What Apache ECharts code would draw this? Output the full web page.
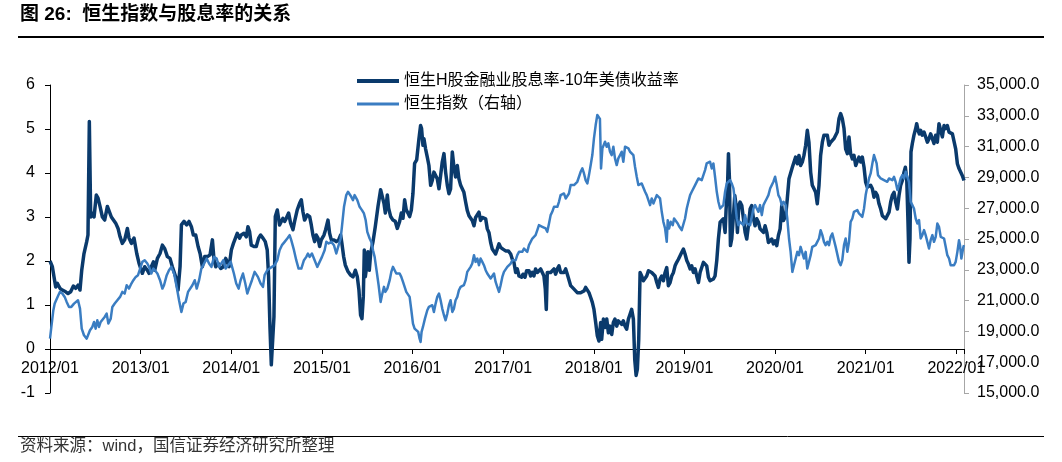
<!DOCTYPE html>
<html><head><meta charset="utf-8">
<script src="https://cdn.jsdelivr.net/npm/echarts@6/dist/echarts.min.js"></script>
<style>html,body{margin:0;padding:0;background:#fff}#c{width:1062px;height:462px}</style>
</head><body><div id="c"></div>
<script>
// ---- Data (time as decimal year) ----
const darkName = '恒生H股金融业股息率-10年美债收益率';
const hsiName = '恒生指数（右轴）';
const yearTicks = ['2012/01','2013/01','2014/01','2015/01','2016/01','2017/01','2018/01','2019/01','2020/01','2021/01','2022/01'];

const darkT = [
2012.000,2012.026,2012.044,2012.063,2012.081,2012.110,2012.136,2012.173,2012.199,2012.228,2012.258,2012.283,2012.309,2012.331,2012.350,2012.375,2012.405,2012.419,2012.434,2012.449,2012.467,2012.486,2012.511,2012.530,2012.552,2012.578,2012.603,2012.633,2012.651,2012.677,2012.699,2012.725,2012.751,2012.773,2012.798,2012.824,2012.854,2012.872,2012.898,2012.927,2012.957,2012.982,
2013.001,2013.019,2013.045,2013.074,2013.093,2013.118,2013.141,2013.155,2013.185,2013.214,2013.240,2013.266,2013.295,2013.324,2013.350,2013.387,2013.413,2013.435,2013.450,2013.479,2013.508,2013.534,2013.560,2013.582,2013.608,2013.634,2013.656,2013.681,2013.707,2013.737,2013.766,2013.792,2013.810,2013.829,2013.854,2013.884,2013.913,2013.939,2013.976,
2014.001,2014.024,2014.037,2014.066,2014.092,2014.110,2014.140,2014.166,2014.184,2014.202,2014.221,2014.250,2014.276,2014.302,2014.324,2014.350,2014.375,2014.397,2014.412,2014.427,2014.442,2014.456,2014.471,2014.486,2014.508,2014.533,2014.552,2014.570,2014.589,2014.607,2014.633,2014.655,2014.681,2014.699,2014.728,2014.754,2014.773,2014.791,2014.809,2014.839,2014.865,2014.883,2014.901,2014.920,2014.938,2014.957,2014.975,2014.993,
2015.023,2015.041,2015.067,2015.085,2015.104,2015.133,2015.159,2015.185,2015.207,2015.221,2015.240,2015.258,2015.288,2015.317,2015.343,2015.369,2015.391,2015.409,2015.427,2015.442,2015.457,2015.468,2015.479,2015.494,2015.508,2015.523,2015.538,2015.564,2015.589,2015.619,2015.648,2015.663,2015.685,2015.700,2015.722,2015.736,2015.759,2015.784,2015.810,2015.832,2015.858,2015.876,2015.895,2015.913,2015.931,2015.950,2015.968,2015.987,
2016.005,2016.023,2016.046,2016.071,2016.089,2016.100,2016.115,2016.126,2016.144,2016.163,2016.181,2016.200,2016.218,2016.236,2016.255,2016.273,2016.292,2016.310,2016.328,2016.347,2016.365,2016.384,2016.402,2016.420,2016.439,2016.457,2016.475,2016.494,2016.512,2016.531,2016.549,2016.567,2016.586,2016.604,2016.623,2016.641,2016.659,2016.678,2016.696,2016.715,2016.733,2016.751,2016.770,2016.788,2016.807,2016.825,2016.843,2016.862,2016.880,2016.899,2016.917,2016.935,2016.954,2016.972,2016.998,
2017.027,2017.057,2017.083,2017.101,2017.119,2017.138,2017.156,2017.175,2017.204,2017.219,2017.241,2017.259,2017.285,2017.303,2017.322,2017.340,2017.358,2017.377,2017.395,2017.414,2017.432,2017.450,2017.465,2017.476,2017.487,2017.506,2017.524,2017.542,2017.561,2017.579,2017.598,2017.616,2017.634,2017.653,2017.671,2017.690,2017.708,2017.726,2017.745,2017.763,2017.782,2017.800,2017.818,2017.837,2017.855,2017.874,2017.892,2017.910,2017.929,2017.947,2017.966,2017.984,
2018.002,2018.021,2018.039,2018.057,2018.076,2018.087,2018.106,2018.124,2018.143,2018.161,2018.179,2018.198,2018.216,2018.234,2018.253,2018.271,2018.290,2018.308,2018.326,2018.345,2018.363,2018.382,2018.400,2018.418,2018.437,2018.452,2018.467,2018.481,2018.496,2018.511,2018.529,2018.547,2018.566,2018.584,2018.603,2018.621,2018.639,2018.658,2018.676,2018.695,2018.713,2018.731,2018.750,2018.768,2018.787,2018.805,2018.823,2018.842,2018.860,2018.879,2018.897,2018.915,2018.934,2018.952,2018.971,2018.989,
2019.007,2019.026,2019.044,2019.063,2019.081,2019.099,2019.118,2019.136,2019.155,2019.173,2019.191,2019.210,2019.228,2019.246,2019.265,2019.283,2019.302,2019.320,2019.338,2019.357,2019.375,2019.394,2019.412,2019.430,2019.449,2019.460,2019.475,2019.486,2019.497,2019.508,2019.522,2019.541,2019.556,2019.570,2019.585,2019.600,2019.614,2019.633,2019.651,2019.670,2019.688,2019.706,2019.725,2019.743,2019.762,2019.780,2019.798,2019.817,2019.835,2019.854,2019.872,2019.890,2019.909,2019.927,2019.946,2019.964,2019.982,
2020.001,2020.019,2020.037,2020.056,2020.074,2020.093,2020.117,2020.135,2020.154,2020.172,2020.191,2020.209,2020.227,2020.246,2020.264,2020.282,2020.301,2020.319,2020.338,2020.356,2020.374,2020.393,2020.411,2020.430,2020.448,2020.466,2020.485,2020.503,2020.522,2020.540,2020.558,2020.577,2020.595,2020.614,2020.632,2020.650,2020.669,2020.687,2020.706,2020.724,2020.742,2020.761,2020.779,2020.798,2020.816,2020.834,2020.853,2020.871,2020.890,2020.908,2020.926,2020.945,2020.963,2020.982,
2021.000,2021.018,2021.037,2021.055,2021.074,2021.092,2021.110,2021.129,2021.147,2021.166,2021.184,2021.202,2021.221,2021.239,2021.258,2021.276,2021.294,2021.313,2021.331,2021.350,2021.368,2021.386,2021.405,2021.423,2021.438,2021.453,2021.467,2021.478,2021.489,2021.500,2021.515,2021.533,2021.552,2021.563,2021.578,2021.592,2021.607,2021.625,2021.644,2021.662,2021.681,2021.699,2021.717,2021.736,2021.754,2021.773,2021.791,2021.809,2021.828,2021.846,2021.865,2021.883,2021.901,2021.920,2021.938,2021.957,2021.975,2021.993,
2022.012,2022.030,2022.048,2022.067,2022.085];

const darkV = [
2.00,1.87,1.64,1.41,1.49,1.38,1.34,1.30,1.26,1.30,1.43,1.38,1.45,1.34,1.79,2.17,2.44,2.59,5.17,3.00,3.09,3.00,3.50,3.43,3.24,3.00,2.93,3.24,3.28,3.00,2.97,2.86,2.74,2.55,2.40,2.48,2.74,2.52,2.40,2.52,2.17,1.95,
1.83,1.72,1.87,1.79,1.72,1.87,1.98,1.79,2.06,2.17,2.36,2.28,2.10,2.06,1.87,1.64,1.34,1.87,2.82,2.90,2.82,2.90,2.78,2.59,2.59,2.33,2.17,1.87,2.10,2.10,2.14,2.48,2.02,1.87,1.95,1.83,1.87,2.06,1.87,
2.25,2.40,2.44,2.63,2.52,2.59,2.63,2.55,2.78,2.67,2.36,2.33,2.33,2.52,2.59,2.52,2.44,2.25,1.64,0.50,-0.36,-0.40,0.73,3.01,3.16,2.82,2.78,2.97,2.90,2.97,3.09,2.86,2.71,2.90,3.16,3.31,3.39,3.12,2.93,3.05,3.01,2.82,2.59,2.44,2.59,2.52,2.33,2.48,
2.59,2.71,2.93,2.63,2.48,2.48,2.44,2.48,2.59,2.40,2.10,1.91,1.76,1.68,1.64,1.79,1.64,1.34,0.77,0.69,1.19,2.25,1.64,1.87,2.21,1.79,2.17,2.44,2.78,3.24,3.62,3.66,3.31,3.09,3.50,3.20,3.01,2.93,2.90,2.74,2.90,3.09,2.97,3.39,3.16,3.09,3.01,3.16,
3.54,4.22,4.30,4.78,5.08,5.01,4.63,4.78,4.55,4.36,4.17,3.72,3.83,4.02,4.06,3.87,3.64,3.94,4.25,4.44,4.02,3.72,3.53,3.64,4.48,4.13,3.91,4.17,3.87,3.72,3.68,3.56,3.34,3.15,3.03,2.99,2.92,2.80,2.99,2.96,3.11,2.92,2.99,3.03,2.96,2.73,2.65,2.42,2.27,2.23,2.16,2.27,2.39,2.31,2.27,
2.23,2.23,2.16,2.04,1.97,1.74,1.82,1.66,1.63,1.70,1.63,1.78,1.78,1.66,1.74,1.66,1.82,1.74,1.78,1.82,1.74,1.66,1.36,0.90,1.74,1.78,1.74,1.78,1.82,1.70,1.82,1.89,1.74,1.78,1.74,1.82,1.70,1.66,1.44,1.40,1.36,1.32,1.28,1.32,1.28,1.28,1.32,1.40,1.44,1.28,1.17,1.06,
0.90,0.60,0.30,0.18,0.60,0.22,0.68,0.49,0.68,0.37,0.52,0.33,0.60,0.68,0.52,0.64,0.68,0.56,0.64,0.52,0.45,0.68,0.79,0.90,0.68,-0.24,-0.60,-0.46,0.22,1.74,1.66,1.55,1.59,1.66,1.78,1.82,1.74,1.78,1.66,1.51,1.40,1.59,1.66,1.55,1.74,1.85,1.44,1.51,1.66,1.74,1.89,1.97,2.04,2.08,2.20,2.27,
2.16,2.01,1.93,1.82,1.89,1.74,1.82,1.66,1.51,1.74,1.78,1.97,2.01,1.89,1.63,1.55,1.59,1.59,1.66,2.01,2.50,2.88,2.92,2.96,2.65,3.18,3.64,4.44,3.87,2.35,2.50,3.03,3.49,3.26,2.65,3.26,3.34,3.26,3.30,2.65,2.50,2.80,3.18,3.26,2.96,2.80,2.96,2.88,2.73,2.77,2.65,2.80,2.65,2.42,2.42,2.50,2.39,
2.46,2.35,2.58,2.73,3.26,2.92,3.03,3.41,3.87,3.91,4.13,4.17,4.36,4.21,4.40,4.17,4.25,4.40,4.63,4.97,4.70,4.02,3.72,3.64,3.56,3.30,3.72,4.40,4.70,4.86,4.89,4.86,4.63,4.70,4.70,4.78,4.82,4.93,5.24,5.35,5.24,5.01,4.55,4.44,4.82,4.44,4.32,4.40,4.17,4.13,4.36,4.25,4.36,4.13,
3.79,3.68,3.64,3.72,3.64,3.45,3.56,3.49,3.30,3.18,3.03,2.99,2.96,2.99,3.11,3.34,3.49,3.56,3.34,3.18,3.49,3.72,3.83,4.02,4.13,3.87,2.88,1.97,2.50,4.48,4.67,4.86,5.01,5.12,4.97,4.89,4.97,4.86,4.93,4.82,4.70,4.78,4.89,4.78,4.67,4.86,4.70,5.12,4.97,4.82,5.08,5.01,5.08,4.93,4.97,4.89,4.86,4.55,
4.21,4.10,4.06,3.94,3.83];

const hsiT = [
2012.000,2012.015,2012.037,2012.052,2012.074,2012.092,2012.110,2012.136,2012.162,2012.184,2012.210,2012.235,2012.265,2012.283,2012.309,2012.331,2012.350,2012.375,2012.405,2012.419,2012.441,2012.467,2012.486,2012.504,2012.522,2012.541,2012.559,2012.581,2012.603,2012.625,2012.644,2012.670,2012.688,2012.714,2012.743,2012.773,2012.798,2012.824,2012.846,2012.872,2012.898,2012.920,2012.946,2012.971,
2013.001,2013.019,2013.045,2013.074,2013.093,2013.118,2013.141,2013.155,2013.185,2013.214,2013.240,2013.258,2013.288,2013.313,2013.339,2013.369,2013.398,2013.424,2013.450,2013.472,2013.497,2013.523,2013.545,2013.571,2013.597,2013.619,2013.645,2013.670,2013.700,2013.729,2013.755,2013.781,2013.810,2013.839,2013.865,2013.884,2013.913,2013.939,2013.965,2013.994,
2014.029,2014.055,2014.081,2014.103,2014.129,2014.155,2014.177,2014.202,2014.228,2014.258,2014.276,2014.294,2014.324,2014.350,2014.368,2014.397,2014.423,2014.449,2014.478,2014.508,2014.533,2014.559,2014.589,2014.618,2014.644,2014.662,2014.692,2014.717,2014.743,2014.773,2014.802,2014.828,2014.846,2014.865,2014.890,2014.920,2014.949,2014.975,
2015.001,2015.030,2015.049,2015.074,2015.104,2015.133,2015.159,2015.185,2015.207,2015.221,2015.244,2015.269,2015.288,2015.306,2015.324,2015.343,2015.361,2015.391,2015.416,2015.442,2015.464,2015.483,2015.501,2015.527,2015.545,2015.564,2015.582,2015.608,2015.626,2015.648,2015.663,2015.685,2015.700,2015.722,2015.748,2015.766,2015.784,2015.803,2015.821,2015.840,2015.858,2015.876,2015.895,2015.913,2015.931,2015.950,2015.968,2015.987,
2016.005,2016.023,2016.042,2016.063,2016.078,2016.089,2016.100,2016.115,2016.137,2016.163,2016.181,2016.200,2016.218,2016.236,2016.255,2016.273,2016.292,2016.310,2016.328,2016.347,2016.365,2016.384,2016.402,2016.420,2016.439,2016.457,2016.475,2016.494,2016.512,2016.531,2016.549,2016.567,2016.586,2016.604,2016.623,2016.641,2016.659,2016.678,2016.696,2016.715,2016.733,2016.751,2016.770,2016.788,2016.807,2016.825,2016.843,2016.862,2016.880,2016.899,2016.917,2016.935,2016.954,2016.972,2016.991,
2017.009,2017.027,2017.046,2017.064,2017.083,2017.101,2017.119,2017.138,2017.156,2017.175,2017.193,2017.211,2017.230,2017.248,2017.266,2017.285,2017.303,2017.322,2017.340,2017.358,2017.377,2017.395,2017.414,2017.432,2017.450,2017.469,2017.487,2017.506,2017.524,2017.542,2017.561,2017.579,2017.598,2017.616,2017.634,2017.653,2017.671,2017.690,2017.708,2017.726,2017.745,2017.763,2017.782,2017.800,2017.818,2017.837,2017.855,2017.874,2017.892,2017.910,2017.929,2017.947,2017.966,2017.984,
2018.002,2018.021,2018.039,2018.055,2018.068,2018.080,2018.095,2018.124,2018.143,2018.161,2018.179,2018.198,2018.216,2018.234,2018.253,2018.271,2018.290,2018.308,2018.326,2018.345,2018.363,2018.382,2018.400,2018.418,2018.437,2018.455,2018.474,2018.492,2018.511,2018.529,2018.547,2018.566,2018.584,2018.603,2018.621,2018.639,2018.658,2018.676,2018.695,2018.713,2018.731,2018.750,2018.768,2018.787,2018.805,2018.816,2018.831,2018.849,2018.871,2018.886,2018.908,2018.926,2018.945,2018.970,2018.989,
2019.007,2019.026,2019.044,2019.063,2019.081,2019.099,2019.118,2019.136,2019.155,2019.173,2019.191,2019.210,2019.228,2019.246,2019.265,2019.283,2019.302,2019.320,2019.338,2019.357,2019.375,2019.394,2019.412,2019.430,2019.449,2019.467,2019.486,2019.504,2019.522,2019.541,2019.559,2019.578,2019.596,2019.614,2019.633,2019.651,2019.670,2019.688,2019.706,2019.725,2019.743,2019.762,2019.780,2019.798,2019.817,2019.835,2019.854,2019.872,2019.890,2019.909,2019.927,2019.946,2019.964,2019.982,
2020.001,2020.019,2020.037,2020.056,2020.074,2020.093,2020.117,2020.135,2020.154,2020.172,2020.191,2020.209,2020.227,2020.246,2020.264,2020.282,2020.301,2020.319,2020.338,2020.356,2020.374,2020.393,2020.411,2020.430,2020.448,2020.466,2020.485,2020.503,2020.522,2020.540,2020.558,2020.577,2020.595,2020.614,2020.632,2020.650,2020.669,2020.687,2020.706,2020.724,2020.742,2020.761,2020.779,2020.798,2020.816,2020.834,2020.853,2020.871,2020.890,2020.908,2020.926,2020.945,2020.963,2020.982,
2021.000,2021.018,2021.037,2021.055,2021.074,2021.092,2021.110,2021.121,2021.136,2021.151,2021.166,2021.184,2021.202,2021.221,2021.239,2021.258,2021.276,2021.294,2021.313,2021.331,2021.350,2021.368,2021.386,2021.405,2021.423,2021.442,2021.460,2021.478,2021.497,2021.515,2021.533,2021.552,2021.570,2021.589,2021.607,2021.625,2021.644,2021.662,2021.681,2021.699,2021.717,2021.736,2021.754,2021.773,2021.791,2021.809,2021.828,2021.846,2021.865,2021.883,2021.901,2021.920,2021.938,2021.957,2021.975,2021.993,
2022.012,2022.030,2022.041,2022.056,2022.067,2022.078,2022.085];

const hsiV = [
18530,19290,20375,20806,20915,21350,21564,21456,21240,20915,20590,20590,20806,20915,21023,20480,19180,18750,18530,18530,19070,19290,19615,19180,19722,19290,19615,19510,19940,20155,19510,19830,20590,20806,21023,21240,21564,21456,21998,21780,22106,22324,22540,22650,
23190,23515,23624,23407,23190,22757,23082,23190,22757,22324,21780,21998,22650,22973,23190,22757,21890,21023,20265,20806,20915,21564,21673,21998,22324,21780,22324,23082,23407,23732,23407,23190,23840,23732,23190,23082,23624,23082,23300,23515,
22757,22106,21780,22324,22757,22106,21456,21890,22324,22865,22973,22540,22106,21890,22650,22973,23082,23190,23300,23624,24273,24600,24815,25032,25250,24924,24273,23624,23082,23082,23624,23840,24057,23840,24057,23624,23190,23515,
23840,24273,24815,24708,24815,24600,24057,24600,25032,25790,27090,27850,28066,28175,27740,27524,27850,27524,27090,26874,26657,26224,25466,25032,24815,24273,23840,22757,21998,20915,21350,21890,21564,21780,22324,22865,23190,22973,22757,22650,22757,22540,22215,22106,21564,21673,21240,20375,
19510,19180,19200,18965,18530,18314,18965,19290,19830,20373,20590,20480,20700,20265,20806,21240,21457,21023,20480,20048,19722,20155,20700,21023,20265,20480,21023,21240,21673,21890,22000,22000,22324,22865,22973,23190,23407,23950,23515,23732,23300,23732,23515,23300,22973,22757,22650,22432,22540,22757,22215,21890,21565,22000,22540,
22865,22973,23190,23082,23407,23624,23732,23624,23950,24165,24274,24165,24382,24382,24165,24600,24600,25032,24924,25250,25575,25900,26008,25791,25900,25683,25466,26008,26550,26766,27090,27200,27090,27416,27850,27850,27958,27633,27741,27958,28500,28500,28500,28608,28716,29041,29366,29583,29258,28824,28608,29150,29800,30450,
31533,32400,33050,33158,32800,29583,30883,31316,30991,31208,30666,30450,30991,30233,29800,30233,30450,30666,30017,30991,31100,30883,30666,30775,30450,29691,29041,28500,28500,28608,28716,28066,27850,27850,27200,27633,27308,27200,27850,27850,27633,26766,26116,25683,24815,26224,25683,26116,25900,26332,26224,26008,25791,25575,25683,
26332,26983,27416,27850,28066,27958,28500,28392,28933,29041,28824,28933,29475,29908,29908,30017,29583,29908,29041,28066,27416,26983,26875,27200,28066,28608,28716,28824,28608,28283,27416,26332,25900,26116,26008,25900,26550,26008,26116,25900,26008,26983,27200,26983,26766,27200,26550,27200,27416,27633,27850,28283,28500,28716,
29041,28500,27850,27633,27200,27416,27200,26332,25032,24165,22865,23300,23190,24165,23950,24490,24382,23732,24165,23082,22973,23950,24490,24382,24600,24815,25032,25575,25250,24815,24600,24815,24600,25141,25358,25250,24490,24382,23515,23300,23624,24600,25032,24165,24815,26116,26332,26766,26658,26875,26658,26550,26441,26983,
27850,28392,28933,29258,29908,30450,30558,29908,29150,29041,28933,29041,28824,28933,28716,28933,29041,28824,29041,28716,28175,28500,28933,29150,28933,29366,29258,28716,27416,27200,26983,26332,26008,26224,25032,25250,25575,25250,25358,24382,24924,25250,24815,25141,26008,25791,25141,25250,25032,24490,23950,23732,23300,23190,23300,23515,
24165,24924,24600,23732,23624,24490,24600];

const DARK = '#0a3a6c';
const LIGHT = '#3a7dc2';
const FONT = '"Liberation Sans", Arial, "Noto Sans CJK SC", sans-serif';

const darkData = darkT.map((t, i) => [t, darkV[i]]);
const hsiData = hsiT.map((t, i) => [t, hsiV[i]]);
const firstYear = parseInt(yearTicks[0], 10);
const X_MIN = 2012, X_MAX = 2022.085;

const chart = echarts.init(document.getElementById('c'), null, {renderer: 'canvas'});
chart.setOption({
  animation: false,
  backgroundColor: '#ffffff',
  textStyle: {fontFamily: FONT},
  grid: [
    {left: 50, right: 98, top: 85, bottom: 69, containLabel: false},
    // axis strip: bottom edge sits on value 0 of the left axis
    {left: 50, right: 98, top: 85, height: 264, containLabel: false}
  ],
  legend: {
    orient: 'vertical', left: 352, top: 68,
    itemWidth: 42, itemHeight: 14, itemGap: 7,
    itemStyle: {borderWidth: 0},
    textStyle: {fontSize: 16, color: '#000', fontFamily: FONT, lineHeight: 16},
    data: [
      {name: darkName, icon: 'path://M0,0H42V4H0Z'},
      {name: hsiName, icon: 'path://M0,0H42V3H0Z'}
    ]
  },
  xAxis: [
    {type: 'value', gridIndex: 0, min: X_MIN, max: X_MAX, show: false},
    {
      type: 'value', gridIndex: 1, min: X_MIN, max: X_MAX, interval: 1, position: 'bottom',
      axisLine: {show: true, onZero: false, lineStyle: {color: '#000', width: 1}},
      axisTick: {show: true, length: 5, lineStyle: {color: '#000'}},
      axisLabel: {
        fontSize: 16, color: '#000', margin: 12, fontFamily: FONT,
        formatter: v => {
          const r = Math.round(v);
          if (Math.abs(v - r) > 1e-6) return '';
          return yearTicks[r - firstYear] || '';
        }
      },
      splitLine: {show: false}
    }
  ],
  yAxis: [
    {
      type: 'value', gridIndex: 0, min: -1, max: 6, interval: 1,
      axisLine: {show: true, onZero: false, lineStyle: {color: '#000', width: 1}},
      axisTick: {show: true, length: 5, lineStyle: {color: '#000'}},
      axisLabel: {fontSize: 16, color: '#000', margin: 15, fontFamily: FONT},
      splitLine: {show: false}
    },
    {
      type: 'value', gridIndex: 0, position: 'right', min: 15000, max: 35000, interval: 2000,
      axisLine: {show: true, onZero: false, lineStyle: {color: '#a6a6a6', width: 1}},
      axisTick: {show: true, length: 5, lineStyle: {color: '#a6a6a6'}},
      axisLabel: {fontSize: 16, color: '#000', margin: 13, fontFamily: FONT,
        formatter: v => v.toLocaleString('en-US', {minimumFractionDigits: 1, maximumFractionDigits: 1})},
      splitLine: {show: false}
    },
    {type: 'value', gridIndex: 1, min: 0, max: 1, show: false}
  ],
  series: [
    {name: darkName, type: 'line', xAxisIndex: 0, yAxisIndex: 0, data: darkData, symbol: 'none', showSymbol: false,
     lineStyle: {width: 3.5, color: DARK, join: 'round'}, itemStyle: {color: DARK}, z: 2},
    {name: hsiName, type: 'line', xAxisIndex: 0, yAxisIndex: 1, data: hsiData, symbol: 'none', showSymbol: false,
     lineStyle: {width: 2.5, color: LIGHT, join: 'round'}, itemStyle: {color: LIGHT}, z: 3}
  ],
  graphic: [
    {type: 'text', left: 20, top: 5, style: {text: '图 26:  恒生指数与股息率的关系', font: 'bold 19px "Liberation Sans", "Noto Sans CJK SC", sans-serif', fill: '#000'}},
    {type: 'line', shape: {x1: 18, y1: 37, x2: 1044, y2: 37}, style: {stroke: '#000', lineWidth: 2}},
    {type: 'line', shape: {x1: 18, y1: 436.5, x2: 1044, y2: 436.5}, style: {stroke: '#000', lineWidth: 1}},
    {type: 'text', left: 20, top: 438, style: {text: '资料来源：wind，国信证券经济研究所整理', font: '16.5px "Liberation Sans", "Noto Sans CJK SC", sans-serif', fill: '#333'}}
  ]
});
</script></body></html>
